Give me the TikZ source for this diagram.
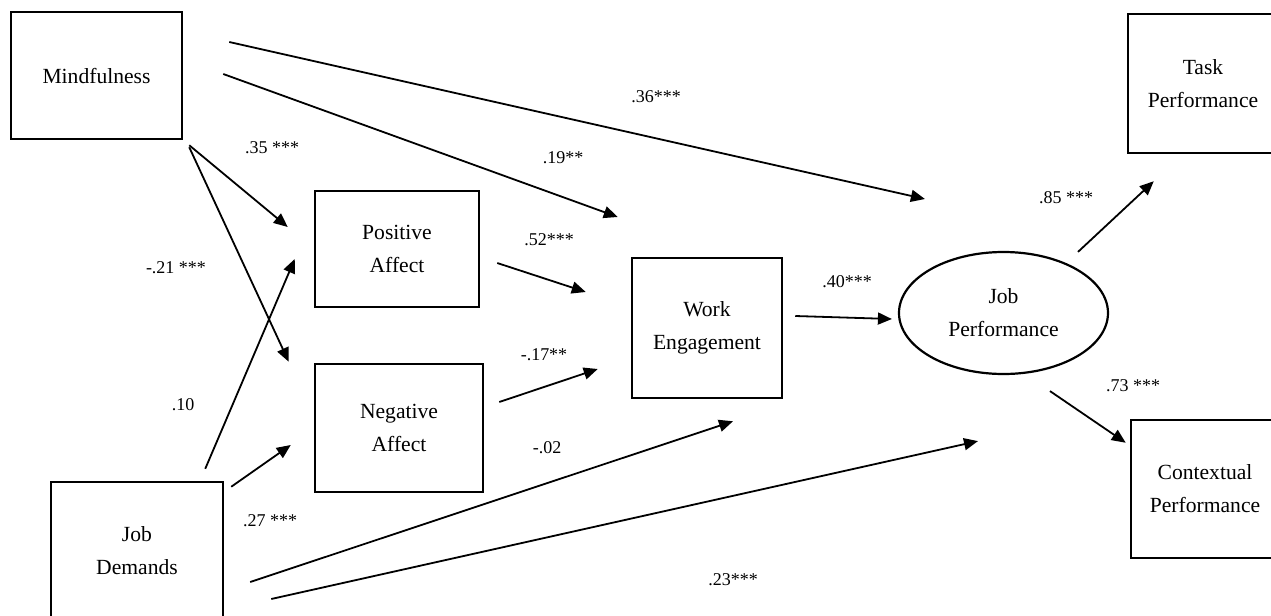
\documentclass[tikz,border=0pt]{standalone}
\usepackage{fontspec}
\setmainfont{Liberation Serif}
\usetikzlibrary{positioning,calc,arrows.meta,shapes.geometric}

\begin{document}
\begin{tikzpicture}[x=0.5pt, y=-0.5pt,
				block/.style={rectangle, draw=black, line width=1.25pt, inner sep=0pt, align=center, font=\fontsize{10.8}{16.5}\selectfont},
				latent/.style={ellipse, draw=black, line width=1.1pt, inner sep=0pt, align=center, font=\fontsize{10.8}{16.5}\selectfont},
				coef/.style={rectangle, inner sep=0pt, font=\fontsize{9}{10}\selectfont}
			]
			\useasboundingbox (0,0) rectangle (1271,616);
			\node[block, minimum width=85.5pt, minimum height=63.5pt] (mind) at (96.5,75.5) {Mindfulness};
			\node[block, minimum width=82pt, minimum height=58pt] (posaff) at (397,249) {Positive\\Affect};
			\node[block, minimum width=84pt, minimum height=64pt] (negaff) at (399,428) {Negative\\Affect};
			\node[block, minimum width=86pt, minimum height=69pt] (demands) at (137,551) {Job\\Demands};
			\node[block, minimum width=75pt, minimum height=70pt] (work) at (707,328) {Work\\Engagement};
			\node[latent, minimum width=104.5pt, minimum height=61pt] (jobperf) at (1003.5,313) {Job\\Performance};
			\node[block, minimum width=75pt, minimum height=69.5pt] (task) at (1203,83.5) {Task\\Performance};
			\node[block, minimum width=74pt, minimum height=69pt] (context) at (1205,489) {Contextual\\Performance};
			\node[coef] (cmindjp) at (656,97) {.36***};
			\node[coef] (cmindwork) at (563,158) {.19**};
			\node[coef] (cmindpos) at (272,148) {.35 ***};
			\node[coef] (cmindneg) at (176,268) {-.21 ***};
			\node[coef] (cdempos) at (183,405) {.10};
			\node[coef] (cdemneg) at (270,521) {.27 ***};
			\node[coef] (cposwork) at (549,240) {.52***};
			\node[coef] (cnegwork) at (544,355) {-.17**};
			\node[coef] (cdemwork) at (547,448) {-.02};
			\node[coef] (cdemjp) at (733,580) {.23***};
			\node[coef] (cworkjp) at (847,282) {.40***};
			\node[coef] (cjptask) at (1066,198) {.85 ***};
			\node[coef] (cjpcontext) at (1133,386) {.73 ***};
			\begin{scope}[line width=0.9pt, -{Triangle[length=7pt,width=6pt]}]
			\draw ([shift={(46,-33.5)}]mind.east) -- ([shift={(27,-114)}]jobperf.west);
			\draw ([shift={(40,-1.5)}]mind.east) -- ([shift={(-13,-111)}]work.west);
			\draw ([shift={(6,5)}]mind.south east) -- ([shift={(-26,-22)}]posaff.west);
			\draw ([shift={(6,7)}]mind.south east) -- ([shift={(-25,-1)}]negaff.north west);
			\draw ([shift={(-19,-12)}]demands.north east) -- ([shift={(-19,10)}]posaff.west);
			\draw ([shift={(7,6)}]demands.north east) -- ([shift={(-23,17)}]negaff.west);
			\draw ([shift={(17,14)}]posaff.east) -- ([shift={(-45,-36)}]work.west);
			\draw ([shift={(15,-26)}]negaff.east) -- ([shift={(-33,41)}]work.west);
			\draw ([shift={(26,31)}]demands.east) -- ([shift={(26,22)}]work.south);
			\draw ([shift={(47,48)}]demands.east) -- ([shift={(-25.5,66)}]jobperf.south);
			\draw ([shift={(12,-12)}]work.east) -- ([shift={(-6,6)}]jobperf.west);
			\draw ([shift={(74.5,1)}]jobperf.north) -- ([shift={(27,27)}]task.south west);
			\draw ([shift={(46.5,16)}]jobperf.south) -- ([shift={(-4,24)}]context.north west);
			\end{scope}
			\end{tikzpicture}
\end{document}
